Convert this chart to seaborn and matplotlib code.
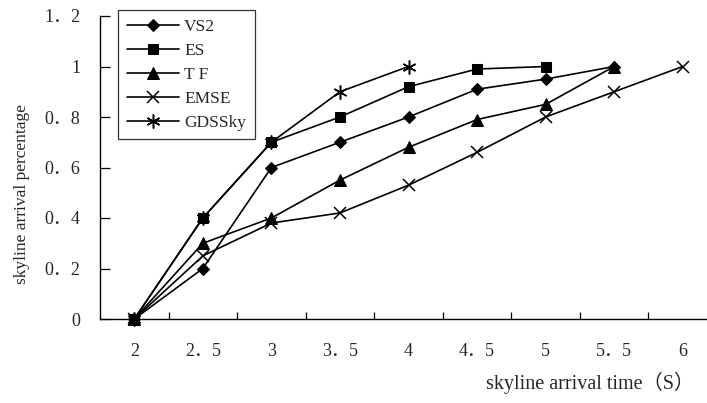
import matplotlib
matplotlib.use('Agg')
import matplotlib.pyplot as plt
import seaborn as sns

# ---- data ----
categories = ['2', '2.5', '3', '3.5', '4', '4.5', '5', '5.5', '6']
x_tick_labels = ['2', '2．5', '3', '3．5', '4', '4．5', '5', '5．5', '6']
y_tick_values = [0, 0.2, 0.4, 0.6, 0.8, 1.0, 1.2]
y_tick_labels = ['0', '0．2', '0．4', '0．6', '0．8', '1', '1．2']
series_names = ['VS2', 'ES', 'T F', 'EMSE', 'GDSSky']
vs2 = [0, 0.2, 0.6, 0.7, 0.8, 0.91, 0.95, 1.0]
es = [0, 0.4, 0.7, 0.8, 0.92, 0.99, 1.0]
tf = [0, 0.3, 0.4, 0.55, 0.68, 0.79, 0.85, 1.0]
emse = [0, 0.25, 0.38, 0.42, 0.53, 0.66, 0.8, 0.9, 1.0]
gdssky = [0, 0.4, 0.7, 0.9, 1.0]

sns.set_style('white')
plt.rcParams['font.family'] = ['Liberation Serif', 'Noto Sans CJK SC', 'DejaVu Sans']

fig = plt.figure(figsize=(7.07, 4.03), dpi=100)
W, H = 707, 403
ax = fig.add_axes([100 / W, (H - 319) / H, 617 / W, 303 / H])

series_values = [vs2, es, tf, emse, gdssky]
styles = [
    dict(marker='D', markersize=6.5, zorder=3),
    dict(marker='s', markersize=7, zorder=4),
    dict(marker='^', markersize=8, zorder=3),
    dict(marker='x', markersize=8, markeredgewidth=1.1, zorder=3),
    dict(marker=(6, 2, 0), markersize=10, markeredgewidth=1.1, zorder=3),
]
for name, vals, st in zip(series_names, series_values, styles):
    xs = list(range(len(vals)))
    sns.lineplot(x=xs, y=vals, ax=ax, color='black', linewidth=1.2,
                 markerfacecolor='black', markeredgecolor='black',
                 label=name, clip_on=False, **st)

n = len(categories)
ax.set_xlim(-0.5, n - 0.5)
ax.set_ylim(0, 1.2)

# category boundaries ticks (major, no labels), labels at centers (minor)
ax.set_xticks([i + 0.5 for i in range(n - 1)])
ax.set_xticklabels([])
ax.set_xticks(list(range(n)), minor=True)
ax.set_xticklabels(x_tick_labels, minor=True, fontsize=13)
ax.tick_params(axis='x', which='major', direction='in', length=5, width=0.9, color='black')
ax.tick_params(axis='x', which='minor', length=0, pad=17)

ax.set_yticks(y_tick_values)
ax.set_yticklabels(y_tick_labels, fontsize=13)
ax.tick_params(axis='y', direction='in', length=7, width=0.9, color='black', pad=14, left=True)
ax.tick_params(axis='x', bottom=True, which='both')

for side in ['top', 'right']:
    ax.spines[side].set_visible(False)
for side in ['left', 'bottom']:
    ax.spines[side].set_color('black')
    ax.spines[side].set_linewidth(1.0)

ax.set_ylabel('skyline arrival percentage', fontsize=12.5)
ax.yaxis.set_label_coords((22 - 100) / 617, (319 - 193.5) / 303)
ax.yaxis.label.set_va('center')
ax.yaxis.label.set_ha('center')

ax.set_xlabel('skyline arrival time（S）', fontsize=14.5)
ax.xaxis.set_label_coords((590 - 100) / 617, (319 - 383) / 303)
ax.xaxis.label.set_va('center')
ax.xaxis.label.set_ha('center')

leg = ax.legend(loc='upper left', bbox_to_anchor=(118 / W, 1 - 10 / H),
                bbox_transform=fig.transFigure, borderaxespad=0,
                frameon=True, fancybox=False, fontsize=12.5,
                handlelength=3.0, labelspacing=0.45, handletextpad=0.3,
                borderpad=0.5)
leg.get_frame().set_edgecolor('black')
leg.get_frame().set_linewidth(0.9)

fig.savefig('out.png', dpi=100)
